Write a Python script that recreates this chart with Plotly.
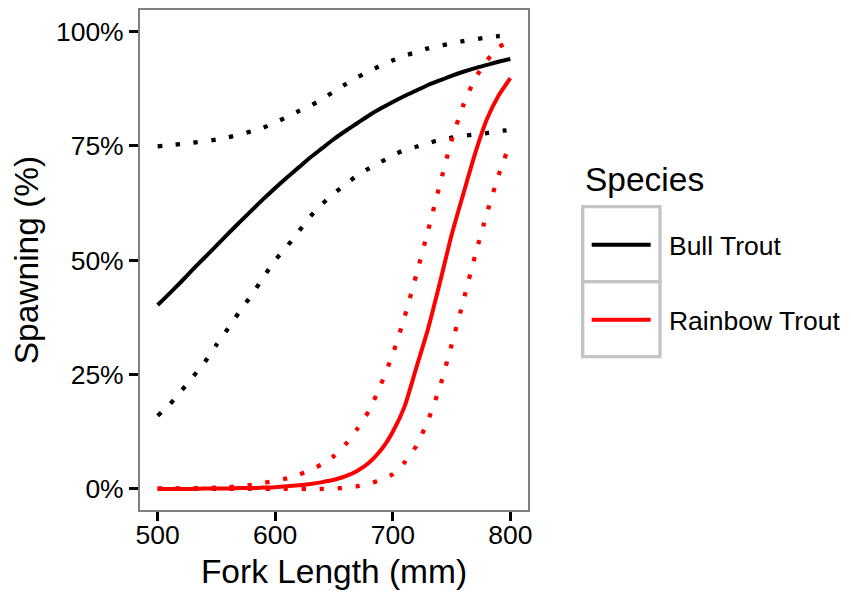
import plotly.graph_objects as go

# Fork length (mm)
fork_length = [500, 510, 520, 530, 540, 550, 560, 570, 580, 590, 600,
               610, 620, 630, 640, 650, 660, 670, 680, 690, 700,
               710, 720, 730, 740, 750, 760, 770, 780, 790, 800]

# Bull Trout: fitted % spawning and confidence bounds
bull_fit = [40.2, 42.7, 45.3, 48.0, 50.6, 53.2, 55.8, 58.4, 60.9, 63.4, 65.8,
            68.1, 70.3, 72.5, 74.5, 76.5, 78.3, 80.0, 81.7, 83.2, 84.6,
            85.9, 87.1, 88.3, 89.3, 90.3, 91.2, 92.0, 92.7, 93.4, 94.0]
bull_upper = [74.9, 75.1, 75.4, 75.7, 76.0, 76.4, 76.9, 77.5, 78.2, 79.0, 80.1,
              81.3, 82.6, 83.8, 85.2, 86.9, 88.5, 90.0, 91.3, 92.6, 93.7,
              94.7, 95.5, 96.3, 96.9, 97.4, 97.9, 98.3, 98.7, 99.0, 99.2]
bull_lower = [16.0, 18.4, 21.4, 24.5, 27.7, 31.5, 35.1, 38.9, 42.4, 46.3, 50.0,
              53.0, 56.3, 59.6, 62.3, 64.6, 66.6, 68.6, 70.1, 71.5, 72.9,
              74.1, 74.8, 75.6, 76.3, 76.8, 77.2, 77.5, 77.8, 78.2, 78.5]

# Rainbow Trout: fitted % spawning and confidence bounds
rainbow_fit = [0.0, 0.0, 0.0, 0.0, 0.1, 0.1, 0.1, 0.2, 0.2, 0.3, 0.4,
               0.6, 0.8, 1.1, 1.5, 2.0, 2.8, 4.0, 5.8, 8.5, 12.5,
               18.0, 26.5, 35.0, 45.0, 55.5, 64.5, 73.3, 80.8, 86.0, 89.8]
rainbow_upper = [0.1, 0.1, 0.1, 0.2, 0.2, 0.3, 0.4, 0.6, 0.9, 1.3, 1.8,
                 2.3, 3.1, 4.2, 5.4, 7.2, 9.8, 13.2, 17.2, 22.9, 29.5,
                 37.6, 46.8, 56.5, 66.5, 76.2, 83.9, 89.7, 93.6, 96.5, 98.0]
rainbow_lower = [0.0, 0.0, 0.0, 0.0, 0.0, 0.0, 0.0, 0.0, 0.0, 0.0, 0.0,
                 0.0, 0.0, 0.0, 0.0, 0.1, 0.25, 0.6, 1.1, 2.1, 3.2,
                 5.8, 9.4, 15.0, 22.3, 31.5, 41.1, 51.0, 60.2, 68.6, 75.8]

species = ["Bull Trout", "Rainbow Trout"]
legend_title = "Species"
x_ticks = [500, 600, 700, 800]
y_ticks = [0, 25, 50, 75, 100]
y_tick_labels = ["0%", "25%", "50%", "75%", "100%"]

FONT = "Liberation Sans, Arial, Helvetica, sans-serif"
DOT = "4.3px,13.7px"

fig = go.Figure()
series = [
    (species[0], "#000000", bull_fit, bull_upper, bull_lower, "bull"),
    (species[1], "#FF0000", rainbow_fit, rainbow_upper, rainbow_lower, "rainbow"),
]
for name, color, fit, up, lo, grp in series:
    for bound in (up, lo):
        fig.add_trace(go.Scatter(x=fork_length, y=bound, mode="lines",
                                 line=dict(color=color, width=4.3, dash=DOT,
                                           shape="spline", smoothing=0.6),
                                 showlegend=False, hoverinfo="skip",
                                 legendgroup=grp))
    # en space pads the gap between the legend key and its label
    fig.add_trace(go.Scatter(x=fork_length, y=fit, mode="lines",
                             name="\u2002" + name,
                             line=dict(color=color, width=4,
                                       shape="spline", smoothing=0.6),
                             legendgroup=grp))

axis_common = dict(showgrid=False, zeroline=False, showline=True, mirror=True,
                   linecolor="#7f7f7f", linewidth=2, ticks="outside",
                   tickcolor="#000000", ticklen=9, tickwidth=2.5,
                   tickfont=dict(family=FONT, size=26.5, color="#000000"))

fig.update_xaxes(range=[485, 815], tickvals=x_ticks, ticklabelstandoff=-9,
                 title=dict(text="Fork Length (mm)",
                            font=dict(family=FONT, size=33.5, color="#000000"),
                            standoff=11),
                 **axis_common)
fig.update_yaxes(range=[-4.6, 104.7], tickvals=y_ticks, ticktext=y_tick_labels,
                 title=dict(text="Spawning (%)",
                            font=dict(family=FONT, size=33.5, color="#000000"),
                            standoff=12),
                 **axis_common)

# plot panel occupies x 140..528, y 10..510 in the 851x596 view
pw = 388.0
ph = 500.0
def px_x(v):
    return (v - 140) / pw
def px_y(v):
    return (510 - v) / ph

# legend key boxes (ggplot-style key borders)
shapes = []
for top, bot in ((206.7, 281.7), (281.7, 356.7)):
    shapes.append(dict(type="rect", xref="paper", yref="paper",
                       x0=px_x(582.7), x1=px_x(660), y0=px_y(bot), y1=px_y(top),
                       line=dict(color="#c4c4c4", width=3.3), fillcolor="rgba(0,0,0,0)"))

fig.add_annotation(text=legend_title, xref="paper", yref="paper",
                   x=px_x(583), y=px_y(180), xanchor="left", yanchor="middle",
                   showarrow=False,
                   font=dict(family=FONT, size=33.5, color="#000000"))

# page body has an 8px margin, so the figure is 8px smaller on each axis
fig.update_layout(
    width=843, height=588,
    margin=dict(l=132, r=323, t=2, b=86, autoexpand=False),
    paper_bgcolor="white", plot_bgcolor="white",
    font=dict(family=FONT, color="#000000"),
    shapes=shapes,
    legend=dict(x=px_x(586.7), y=px_y(221), xanchor="left", yanchor="top",
                font=dict(family=FONT, size=26.5, color="#000000"),
                traceorder="grouped", tracegroupgap=37.5,
                itemwidth=59, bgcolor="rgba(0,0,0,0)"),
)

fig.write_html("out.html")
